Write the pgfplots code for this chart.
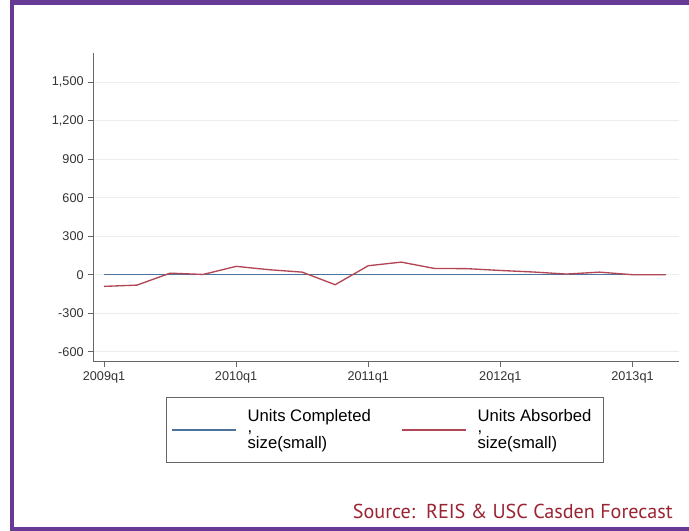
\documentclass[border=0pt]{standalone}
\usepackage{pgfplots}
\pgfplotsset{compat=1.18}
\usepackage{fontspec}
\setmainfont{Liberation Sans}
\newfontfamily\srcfont{PT Sans}
\definecolor{framepurple}{RGB}{103,58,150}
\definecolor{statablue}{RGB}{75,115,155}
\definecolor{statared}{RGB}{178,70,84}
\definecolor{srcred}{RGB}{155,35,50}

% quarters 2009q1 .. 2013q2 as 0..17
\pgfplotstableread{
q  completed absorbed
0  0  -91
1  0  -81
2  0   12
3  0    2
4  0   65
5  0   39
6  0   20
7  0  -78
8  0   70
9  0   98
10 0   49
11 0   47
12 0   33
13 0   21
14 0    5
15 0   20
16 0    0
17 0    0
}\units

\begin{document}
\begin{tikzpicture}
% page: 689 x 531 px at 0.75pt per px
\useasboundingbox (0pt,0pt) rectangle (516.75pt,-398.25pt);
\fill[white] (0pt,0pt) rectangle (516.75pt,-398.25pt);
\fill[framepurple] (7.5pt,0pt) rectangle (516.75pt,-3.75pt);
\fill[framepurple] (7.5pt,0pt) rectangle (10.5pt,-398.25pt);
\fill[framepurple] (7.5pt,-395.25pt) rectangle (516.75pt,-398.25pt);

\begin{axis}[
  at={(69.98pt,-271.28pt)}, anchor=south west,
  scale only axis,
  width=439.3pt, height=231.75pt,
  xmin=-0.324, xmax=17.41,
  ymin=-678, ymax=1730,
  axis lines*=left,
  axis line style={gray!80!black, line width=0.6pt},
  tick align=outside,
  major tick length=3.75pt,
  tick style={gray!80!black, line width=0.6pt},
  xtick={0,4,8,12,16},
  xticklabels={2009q1,2010q1,2011q1,2012q1,2013q1},
  ytick={-600,-300,0,300,600,900,1200,1500},
  yticklabel style={/pgf/number format/.cd, fixed, 1000 sep={,}},
  /pgf/number format/assume math mode=true,
  ticklabel style={font=\fontsize{9.5}{11}\selectfont, text=black!80},
  ymajorgrids,
  grid style={gray!15, line width=0.6pt},
  legend columns=2,
  legend cell align=left,
  legend style={
    at={(axis description cs:0.124,-0.115)}, anchor=north west,
    draw=gray!80!black, line width=0.6pt,
    font=\fontsize{12.5}{15}\selectfont,
    cells={align=left},
    inner xsep=4pt, inner ysep=7pt,
    /tikz/every odd column/.append style={column sep=6pt},
    /tikz/every even column/.append style={column sep=21pt},
  },
  legend image code/.code={\draw[#1] (0pt,0pt) -- (48pt,0pt);},
]
\addplot[statablue, line width=1pt] table[x=q, y=completed] {\units};
\addlegendentry{Units Completed\\[-7.2pt],\\[-2.8pt]size(small)}
\addplot[statared, line width=1pt] table[x=q, y=absorbed] {\units};
\addlegendentry{Units Absorbed\hspace*{3pt}\\[-7.2pt],\\[-2.8pt]size(small)}
\end{axis}

\node[anchor=base east, inner sep=0pt, text=srcred, font=\srcfont\fontsize{15.1}{17}\selectfont]
  at (504.75pt,-388.9pt) {Source:\ \ REIS \& USC Casden Forecast};
\end{tikzpicture}
\end{document}
